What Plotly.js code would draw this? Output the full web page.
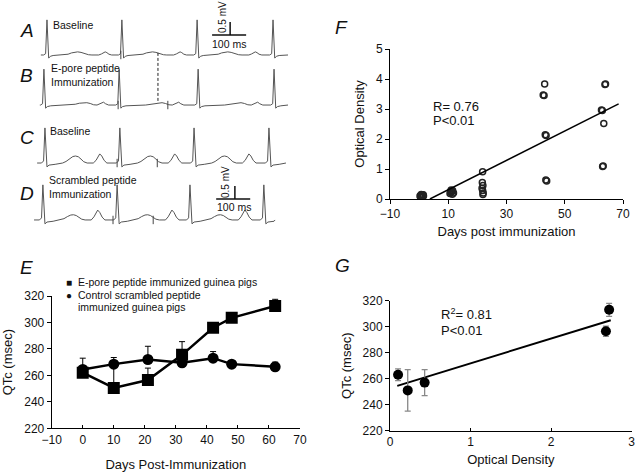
<!DOCTYPE html>
<html><head><meta charset="utf-8">
<script src="https://cdn.plot.ly/plotly-3.0.1.min.js"></script>
<style>html,body{margin:0;padding:0;background:#fff}#chart{width:637px;height:472px}</style>
</head><body><div id="chart"></div>
<script>
// ---------- Panel E data (QTc vs days) ----------
const daysE = [0, 10, 21, 32, 42, 48, 62];
const qtcEpore = [262, 250.5, 256.5, 275.5, 296, 303.5, 312.5];
const qtcEporeErr = [4, 16, 9, 10, 3.5, 2, 5];
const qtcScram = [264.5, 268.5, 272, 269.5, 273, 268.5, 266.5];
const qtcScramErr = [8.5, 5, 10, 2, 5, 1.5, 3.5];
const legendE = ["E-pore peptide immunized guinea pigs", "Control scrambled peptide", "immunized guinea pigs"];

// ---------- Panel F data (optical density vs days) ----------
const daysF = [0.3,0.6,0.9,1.2,1.5,0.5,1.0,1.4,0.7,1.1,
               10.6,10.9,11.2,11.5,11.8,11.0,11.4,10.8,
               21.8,21.7,21.9,21.6,21.8,22.0,21.9,
               43.1,42.6,42.9,43.3,43.6,43.5,43.8,
               64.0,63.8,62.6,62.9,63.4,63.0,63.2];
const odF = [0.10,0.12,0.08,0.13,0.10,0.05,0.06,0.14,0.15,0.11,
             0.18,0.22,0.25,0.28,0.20,0.30,0.16,0.24,
             0.91,0.55,0.45,0.36,0.28,0.20,0.15,
             3.83,3.47,3.45,2.14,2.12,0.63,0.60,
             3.83,3.82,2.97,2.95,2.52,1.08,1.10];
const fitF_x = [3.7, 68.5];
const fitF_y = [0, 3.17];
const statsF = ["R= 0.76", "P<0.01"];

// ---------- Panel G data (QTc vs optical density) ----------
const odG = [0.10, 0.22, 0.43, 2.68, 2.72];
const qtcG = [263, 251, 257, 296.5, 313];
const qtcGErr = [4.5, 16, 10, 4, 5];
const fitG_x = [0.09, 2.74];
const fitG_y = [254.5, 305];
const statsG = ["R<sup>2</sup>= 0.81", "P<0.01"];

// ---------- Panels A-D ECG traces (ms, mV) ----------
const ecgLabels = ["Baseline", "E-pore peptide<br>Immunization", "Baseline", "Scrambled peptide<br>Immunization"];
// R-peak times (ms) of each beat
const beatsA = [18, 238, 459, 682];
const beatsB = [9, 230, 462, 685];
const beatsC = [12, 232, 450, 670];
const beatsD = [6, 224, 438, 655];
// start / end of each recording (ms)
const spanA = [0, 726], spanB = [-3, 726], spanC = [-11, 720], spanD = [-20, 688];
// beat templates: [ms offset from R, mV]
const beatTplA = [[-10,0],[-4,0.05],[0,1.35],[5,-0.12],[10,-0.05],[18,-0.02],[50,0],[62,0.03],[72,0.08],[82,0.11],[90,0.12],[100,0.1],[110,0.05],[122,0.01],[132,0],[152,0],[160,0.04],[166,0.1],[171,0.12],[176,0.09],[182,0.03],[190,0]];
const beatTplB = [[-10,0],[-4,0.05],[0,1.38],[5,-0.12],[10,-0.06],[20,-0.03],[78,0],[92,0.03],[104,0.07],[116,0.09],[126,0.09],[136,0.06],[146,0.01],[156,0],[164,0.05],[170,0.1],[175,0.11],[181,0.05],[190,0]];
const beatTplC = [[-10,0],[-4,0.08],[0,1.35],[6,-0.15],[12,-0.08],[30,-0.05],[52,0],[62,0.06],[72,0.17],[82,0.25],[90,0.27],[98,0.24],[106,0.15],[114,0.05],[124,0],[142,0],[150,0.1],[156,0.26],[161,0.35],[167,0.27],[174,0.1],[182,0]];
const beatTplD = [[-10,0],[-4,0.08],[0,1.35],[6,-0.15],[12,-0.08],[30,-0.05],[52,0],[62,0.05],[72,0.13],[82,0.19],[90,0.2],[98,0.17],[106,0.1],[114,0.03],[124,0],[142,0],[150,0.12],[156,0.29],[161,0.38],[167,0.29],[174,0.11],[182,0]];
// interval markers (ms)
const marksA = [235];
const marksB = [227, 373];
const marksC = [224, 342];
const marksD = [212, 330];
// dashed reference line (ms)
const dashLineMs = 344;
// scale bars (ms length / mV height)
const scaleMs = 100, scaleMv = 0.5;

// ---------- layout constants ----------
const W = 637, H = 472;
const px = v => v / W, py = v => 1 - v / H;
const ecgBase = {A: -2.115, B: -4.04, C: -6.27, D: -8.46};

function buildEcg(beats, tpl, span, base) {
  const xs = [span[0]], ys = [base];
  beats.forEach(b => tpl.forEach(p => {
    const t = b + p[0];
    if (t >= span[0] && t <= span[1]) { xs.push(t); ys.push(base + p[1]); }
  }));
  xs.push(span[1]); ys.push(base);
  return {x: xs, y: ys};
}

const traces = [];
const ecgDefs = [
  [beatsA, beatTplA, spanA, ecgBase.A, marksA],
  [beatsB, beatTplB, spanB, ecgBase.B, marksB],
  [beatsC, beatTplC, spanC, ecgBase.C, marksC],
  [beatsD, beatTplD, spanD, ecgBase.D, marksD]
];
ecgDefs.forEach(d => {
  const e = buildEcg(d[0], d[1], d[2], d[3]);
  traces.push({x: e.x, y: e.y, xaxis: 'x4', yaxis: 'y4', mode: 'lines',
    line: {color: '#555', width: 1}, hoverinfo: 'skip', showlegend: false});
  traces.push({x: d[4], y: d[4].map(() => d[3]), xaxis: 'x4', yaxis: 'y4', mode: 'markers',
    marker: {symbol: 'line-ns', size: 6, line: {color: '#444', width: 1}}, showlegend: false, hoverinfo: 'skip'});
});
// dashed line between A and B
traces.push({x: [dashLineMs, dashLineMs], y: [ecgBase.A + 0.08, ecgBase.B + 0.08], xaxis: 'x4', yaxis: 'y4',
  mode: 'lines', line: {color: '#222', width: 1, dash: '3px,2px'}, showlegend: false, hoverinfo: 'skip'});
// scale bars
[[556, 503, ecgBase.A + 0.77], [570, 515, ecgBase.D + 0.81]].forEach(s => {
  traces.push({x: [s[0], s[0], s[1], s[1] + scaleMs], y: [s[2] + scaleMv, s[2], s[2], s[2]],
    xaxis: 'x4', yaxis: 'y4', mode: 'lines', line: {color: '#111', width: 1.5}, showlegend: false, hoverinfo: 'skip'});
});

// Panel E
traces.push({x: daysE, y: qtcScram, xaxis: 'x', yaxis: 'y', mode: 'lines+markers', name: legendE[1],
  line: {color: '#000', width: 2.5}, marker: {symbol: 'circle', size: 11, color: '#000'},
  error_y: {type: 'data', symmetric: false, array: qtcScramErr, arrayminus: qtcScramErr.map(() => 0), color: '#000', thickness: 1, width: 3},
  showlegend: false});
traces.push({x: daysE, y: qtcEpore, xaxis: 'x', yaxis: 'y', mode: 'lines+markers', name: legendE[0],
  line: {color: '#000', width: 2.5}, marker: {symbol: 'square', size: 12, color: '#000'},
  error_y: {type: 'data', symmetric: false, array: qtcEporeErr, arrayminus: qtcEporeErr.map(() => 0), color: '#000', thickness: 1, width: 3},
  showlegend: false});

// Panel F
traces.push({x: daysF, y: odF, xaxis: 'x2', yaxis: 'y2', mode: 'markers',
  marker: {symbol: 'circle-open', size: 6, color: '#222', line: {width: 1.5, color: '#222'}}, showlegend: false});
traces.push({x: fitF_x, y: fitF_y, xaxis: 'x2', yaxis: 'y2', mode: 'lines', line: {color: '#000', width: 1.5}, showlegend: false});

// Panel G
traces.push({x: fitG_x, y: fitG_y, xaxis: 'x3', yaxis: 'y3', mode: 'lines', line: {color: '#000', width: 2}, showlegend: false});
traces.push({x: odG, y: qtcG, xaxis: 'x3', yaxis: 'y3', mode: 'markers',
  marker: {symbol: 'circle', size: 10, color: '#000'},
  error_y: {type: 'data', array: qtcGErr, color: '#888', thickness: 1.3, width: 3}, showlegend: false});

const font = 'Liberation Sans, Arial, sans-serif';
const axBase = {showgrid: false, zeroline: false, showline: true, linecolor: '#000', linewidth: 1,
  ticks: 'outside', ticklen: 4, tickcolor: '#000', tickfont: {family: font, size: 12, color: '#111'}, fixedrange: true};

const ann = [];
function txt(x, y, t, size, opts) {
  ann.push(Object.assign({xref: 'paper', yref: 'paper', x: px(x), y: py(y), text: t, showarrow: false,
    xanchor: 'left', yanchor: 'middle', align: 'left', font: {family: font, size: size, color: '#111'}}, opts || {}));
}
// panel letters
[["A", 18, 30], ["B", 18, 75], ["C", 18, 137], ["D", 18, 193], ["E", 18, 267], ["F", 333, 28], ["G", 333, 265]]
  .forEach(l => txt(l[1], l[2], '<i>' + l[0] + '</i>', 19));
// ECG labels
txt(51, 25, ecgLabels[0], 10.5);
txt(49, 75, ecgLabels[1], 10.5);
txt(48, 131, ecgLabels[2], 10.5);
txt(47, 187, ecgLabels[3], 10.5);
// scale-bar labels
txt(229, 44, scaleMs + ' ms', 10.5, {xanchor: 'center'});
txt(222, 17, scaleMv + ' mV', 10, {xanchor: 'center', textangle: -90});
txt(234, 207, scaleMs + ' ms', 10.5, {xanchor: 'center'});
txt(225, 182, scaleMv + ' mV', 10, {xanchor: 'center', textangle: -90});
// legend E
txt(64, 282, '■', 10);
txt(76, 282, legendE[0], 10.5);
txt(64, 295, '●', 10);
txt(76, 295, legendE[1], 10.5);
txt(76, 307, legendE[2], 10.5);
// stats
txt(431, 107, statsF[0], 13);
txt(431, 120, statsF[1], 13);
txt(439, 314, statsG[0], 13);
txt(439, 330, statsG[1], 13);

const layout = {
  width: W, height: H, margin: {l: 0, r: 0, t: 0, b: 0}, paper_bgcolor: '#fff', plot_bgcolor: 'rgba(0,0,0,0)',
  showlegend: false, font: {family: font, color: '#111'},
  xaxis: Object.assign({}, axBase, {domain: [px(51.7), px(300)], range: [-10, 70], tickvals: [-10,0,10,20,30,40,50,60,70],
    ticktext: ['\u221210','0','10','20','30','40','50','60','70'], ticks: 'inside', ticklen: 3,
    title: {text: 'Days Post-Immunization', font: {family: font, size: 13, color: '#111'}, standoff: 14}, anchor: 'y'}),
  yaxis: Object.assign({}, axBase, {domain: [py(428.3), py(296)], range: [220, 320], tickvals: [220,240,260,280,300,320],
    title: {text: 'QTc (msec)', font: {family: font, size: 13, color: '#111'}, standoff: 8}, anchor: 'x'}),
  xaxis2: Object.assign({}, axBase, {domain: [px(390), px(623)], range: [-10, 70], tickvals: [-10,10,30,50,70],
    ticktext: ['\u221210','10','30','50','70'],
    title: {text: 'Days post immunization', font: {family: font, size: 13, color: '#111'}, standoff: 6}, anchor: 'y2'}),
  yaxis2: Object.assign({}, axBase, {domain: [py(199), py(49)], range: [0, 5], tickvals: [0,1,2,3,4,5],
    title: {text: 'Optical Density', font: {family: font, size: 13, color: '#111'}, standoff: 8}, anchor: 'x2'}),
  xaxis3: Object.assign({}, axBase, {domain: [px(390), px(631.7)], range: [0, 3], tickvals: [0,1,2,3], ticks: 'inside', ticklen: 3,
    title: {text: 'Optical Density', font: {family: font, size: 13, color: '#111'}, standoff: 6}, anchor: 'y3'}),
  yaxis3: Object.assign({}, axBase, {domain: [py(430.7), py(300.7)], range: [220, 320], tickvals: [220,240,260,280,300,320],
    title: {text: 'QTc (msec)', font: {family: font, size: 13, color: '#111'}, standoff: 8}, anchor: 'x3'}),
  xaxis4: {domain: [0, px(320)], range: [-120, 820], visible: false, fixedrange: true, anchor: 'y4'},
  yaxis4: {domain: [py(232), 1], range: [-8.923, 0], visible: false, fixedrange: true, anchor: 'x4'},
  annotations: ann
};
Plotly.newPlot('chart', traces, layout, {displayModeBar: false, staticPlot: true});
</script></body></html>
